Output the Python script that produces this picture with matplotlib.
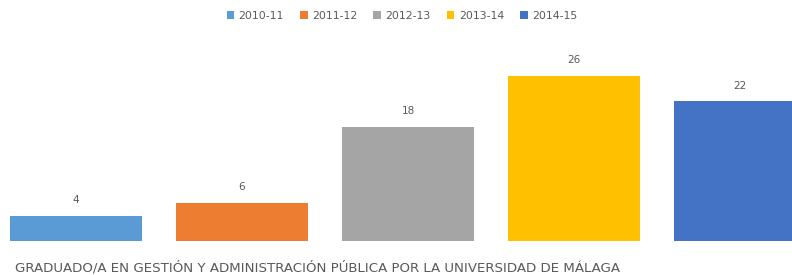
import matplotlib.pyplot as plt
from matplotlib.patches import Patch

# data
cursos = ["2010-11", "2011-12", "2012-13", "2013-14", "2014-15"]
graduados = [4, 6, 18, 26, 22]
colores = ["#5B9BD5", "#ED7D31", "#A5A5A5", "#FFC000", "#4472C4"]
categoria = "GRADUADO/A EN GESTIÓN Y ADMINISTRACIÓN PÚBLICA POR LA UNIVERSIDAD DE MÁLAGA"

W, H = 792, 275
fig = plt.figure(figsize=(W / 100, H / 100), dpi=100)
# baseline sits 34 px above the bottom edge; right side of chart is cropped
ax = fig.add_axes([0, 34 / H, 1, (H - 34) / H])

xs = range(len(graduados))
ax.bar(xs, graduados, width=0.8, color=colores)
for x, v in zip(xs, graduados):
    ax.text(x, v + 1.7, str(v), ha="center", va="bottom", fontsize=7.5, color="#595959")

ax.set_xlim(-76 / 166, (W - 76) / 166)
ax.set_ylim(0, 241 / 6.35)
ax.axis("off")

fig.text(15 / W, 1 - 268 / H, categoria, ha="left", va="center",
         fontsize=9.6, color="#595959")

handles = [Patch(facecolor=c, edgecolor="none") for c in colores]
fig.legend(handles, cursos, loc="center", bbox_to_anchor=(402 / W, 1 - 16 / H),
           ncol=5, frameon=False, fontsize=7.8, labelcolor="#595959",
           handlelength=0.7, handleheight=0.7, handletextpad=0.4, columnspacing=1.5)

fig.savefig("out.png", dpi=100)
